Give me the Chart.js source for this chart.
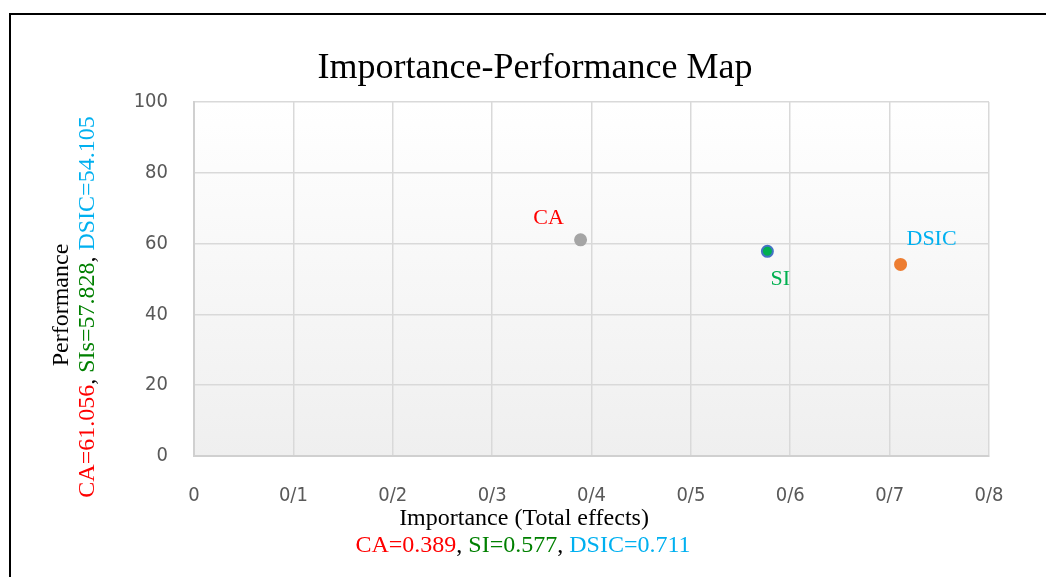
<!DOCTYPE html>
<html>
<head>
<meta charset="utf-8">
<script src="https://cdn.jsdelivr.net/npm/chart.js@4.4.1/dist/chart.umd.min.js"></script>
<style>
    html, body { margin: 0; padding: 0; background: #fff; overflow: hidden; }
    #wrap { position: relative; width: 1046px; height: 577px; }
    #frame {
        position: absolute; left: 9px; top: 13px; right: -10px; bottom: -10px;
        border-left: 2px solid #000; border-top: 2px solid #000;
    }
    canvas { position: absolute; left: 0; top: 0; }
</style>
</head>
<body>
<div id="wrap">
    <div id="frame"></div>
    <canvas id="ipmChart" width="1046" height="577"></canvas>
</div>
<script>
// --------------------------------------------------------------------
// Data
// --------------------------------------------------------------------
const constructs = ['CA', 'SI', 'DSIC'];
const importance = [0.389, 0.577, 0.711];      // total effects
const performance = [61.056, 57.828, 54.105];
const xTickValues = [0, 0.1, 0.2, 0.3, 0.4, 0.5, 0.6, 0.7, 0.8];
const xTickLabels = ['0', '0/1', '0/2', '0/3', '0/4', '0/5', '0/6', '0/7', '0/8'];
const yTickValues = [0, 20, 40, 60, 80, 100];
const yTickLabels = ['0', '20', '40', '60', '80', '100'];

// --------------------------------------------------------------------
// Styles
// --------------------------------------------------------------------
const RED = '#ff0000';
const GREEN_DARK = '#008000';
const GREEN = '#00b050';
const CYAN = '#00b0f0';
const serif = "'Liberation Serif', 'Times New Roman', serif";
const tickFont = { family: "'DejaVu Sans Condensed', 'Open Sans', sans-serif", size: 20 };

const pointFill = ['#a5a5a5', GREEN, '#ed7d31'];
const pointEdge = ['#a5a5a5', '#4472c4', '#ed7d31'];
const labelColor = [RED, GREEN, CYAN];
const labelOffset = [[-32, -22], [13, 28], [31, -25]];

// draws a row of coloured text pieces centred on (cx, cy)
function drawPieces(ctx, pieces, cx, cy) {
    let total = 0;
    pieces.forEach(p => { total += ctx.measureText(p[0]).width; });
    let x = cx - total / 2;
    pieces.forEach(p => {
        ctx.fillStyle = p[1];
        ctx.fillText(p[0], x, cy);
        x += ctx.measureText(p[0]).width;
    });
}

const fmt = v => v.toFixed(3);

const ipmPlugin = {
    id: 'ipm',
    beforeDraw(chart) {
        const { ctx, chartArea: a } = chart;
        const g = ctx.createLinearGradient(0, a.top, 0, a.bottom);
        g.addColorStop(0, '#ffffff');
        g.addColorStop(1, '#efefef');
        ctx.save();
        ctx.fillStyle = g;
        ctx.fillRect(a.left, a.top, a.right - a.left, a.bottom - a.top);
        ctx.restore();
    },
    afterDraw(chart) {
        const ctx = chart.ctx;
        ctx.save();
        ctx.textBaseline = 'middle';
        ctx.textAlign = 'left';

        // title
        ctx.font = '36px ' + serif;
        drawPieces(ctx, [['Importance-Performance Map', '#000']], 535, 69);

        // x axis title
        ctx.font = '24px ' + serif;
        drawPieces(ctx, [['Importance (Total effects)', '#000']], 524, 519);
        drawPieces(ctx, [
            ['CA=' + importance[0], RED], [', ', '#000'],
            ['SI=' + importance[1], GREEN_DARK], [', ', '#000'],
            ['DSIC=' + importance[2], CYAN]
        ], 523, 546);

        // y axis title (rotated)
        ctx.save();
        ctx.translate(62, 305);
        ctx.rotate(-Math.PI / 2);
        drawPieces(ctx, [['Performance', '#000']], 0, 0);
        ctx.restore();
        ctx.save();
        ctx.translate(88, 307);
        ctx.rotate(-Math.PI / 2);
        drawPieces(ctx, [
            ['CA=' + fmt(performance[0]), RED], [', ', '#000'],
            ['SIs=' + fmt(performance[1]), GREEN_DARK], [', ', '#000'],
            ['DSIC=' + fmt(performance[2]), CYAN]
        ], 0, 0);
        ctx.restore();

        // point labels
        ctx.font = '22px ' + serif;
        ctx.textAlign = 'center';
        const meta = chart.getDatasetMeta(0);
        meta.data.forEach((pt, i) => {
            ctx.fillStyle = labelColor[i];
            ctx.fillText(constructs[i], pt.x + labelOffset[i][0], pt.y + labelOffset[i][1]);
        });
        ctx.restore();
    }
};

new Chart(document.getElementById('ipmChart'), {
    type: 'scatter',
    data: {
        labels: constructs,
        datasets: [{
            data: importance.map((v, i) => ({ x: v, y: performance[i] })),
            backgroundColor: pointFill,
            borderColor: pointEdge,
            borderWidth: 2,
            pointRadius: 5.5,
            pointHoverRadius: 5.5
        }]
    },
    options: {
        responsive: false,
        animation: false,
        layout: { padding: { left: 0, top: 102, right: 57, bottom: 0 } },
        plugins: {
            legend: { display: false },
            tooltip: { enabled: false },
            title: { display: false }
        },
        scales: {
            x: {
                type: 'linear',
                min: 0,
                max: 0.8,
                afterBuildTicks: s => { s.ticks = xTickValues.map(v => ({ value: v })); },
                afterFit: s => { s.height = 121; },
                grid: { color: '#d9d9d9', lineWidth: 1.5, drawTicks: false },
                border: { color: '#d0d0d0', width: 2 },
                ticks: {
                    color: '#595959',
                    font: tickFont,
                    padding: 28,
                    maxRotation: 0,
                    autoSkip: false,
                    callback: (v, i) => xTickLabels[i]
                }
            },
            y: {
                type: 'linear',
                min: 0,
                max: 100,
                afterBuildTicks: s => { s.ticks = yTickValues.map(v => ({ value: v })); },
                afterFit: s => { s.width = 194; },
                grid: { color: '#d9d9d9', lineWidth: 1.5, drawTicks: false },
                border: { color: '#d0d0d0', width: 2 },
                ticks: {
                    color: '#595959',
                    font: tickFont,
                    padding: 26,
                    autoSkip: false,
                    callback: (v, i) => yTickLabels[i]
                }
            }
        }
    },
    plugins: [ipmPlugin]
});
</script>
</body>
</html>
